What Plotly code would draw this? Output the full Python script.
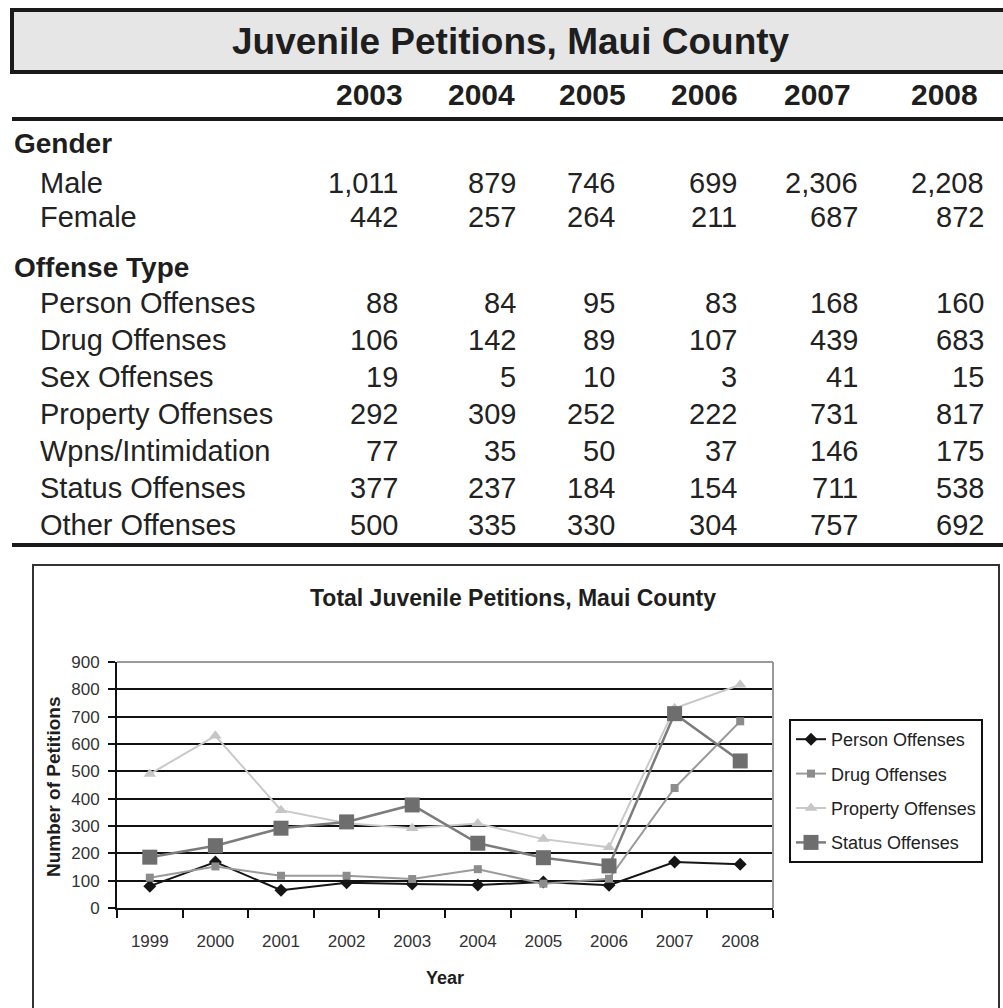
import plotly.graph_objects as go

W, H = 1003, 1008
FONT = "Liberation Sans, Arial, sans-serif"

# ---- table data ----
table_title = "Juvenile Petitions, Maui County"
table_years = ["2003", "2004", "2005", "2006", "2007", "2008"]

gender_header = "Gender"
gender_labels = ["Male", "Female"]
male_counts = [1011, 879, 746, 699, 2306, 2208]
female_counts = [442, 257, 264, 211, 687, 872]

offense_header = "Offense Type"
offense_labels = ["Person Offenses", "Drug Offenses", "Sex Offenses", "Property Offenses",
                  "Wpns/Intimidation", "Status Offenses", "Other Offenses"]
person_counts = [88, 84, 95, 83, 168, 160]
drug_counts = [106, 142, 89, 107, 439, 683]
sex_counts = [19, 5, 10, 3, 41, 15]
property_counts = [292, 309, 252, 222, 731, 817]
weapons_counts = [77, 35, 50, 37, 146, 175]
status_counts = [377, 237, 184, 154, 711, 538]
other_counts = [500, 335, 330, 304, 757, 692]

# ---- chart data (1999-2008) ----
chart_title = "Total Juvenile Petitions, Maui County"
chart_years = ["1999", "2000", "2001", "2002", "2003", "2004", "2005", "2006", "2007", "2008"]
person_series = [80, 168, 65, 92, 88, 84, 95, 83, 168, 160]
drug_series = [111, 152, 118, 118, 106, 142, 89, 107, 439, 683]
property_series = [490, 630, 358, 310, 292, 309, 252, 222, 731, 817]
status_series = [186, 228, 292, 315, 377, 237, 184, 154, 711, 538]
y_ticks = [0, 100, 200, 300, 400, 500, 600, 700, 800, 900]


def px(x):
    return x / W


def py(y):
    return 1 - y / H


fig = go.Figure()

series = [
    ("Person Offenses", person_series, "#151515", 2, "diamond", 10, "#151515"),
    ("Drug Offenses", drug_series, "#9a9a9a", 2, "square", 8, "#8c8c8c"),
    ("Property Offenses", property_series, "#c9c9c9", 2, "triangle-up", 11, "#c6c6c6"),
    ("Status Offenses", status_series, "#7c7c7c", 2.5, "square", 15, "#6e6e6e"),
]
for name, vals, lc, lw, sym, ms, mc in series:
    fig.add_trace(go.Scatter(
        x=chart_years, y=vals, name=name, legendgroup=name,
        mode="lines+markers",
        line=dict(color=lc, width=lw),
        marker=dict(symbol=sym, size=ms, color=mc),
    ))

annotations = []


def text(x, y, s, size, bold=False, anchor="left", color="#222222", angle=0):
    annotations.append(dict(
        x=px(x), y=py(y), xref="paper", yref="paper",
        text=f"<b>{s}</b>" if bold else s, showarrow=False,
        xanchor=anchor, yanchor="middle", textangle=angle,
        font=dict(family=FONT, size=size, color=color),
    ))


# table title and header row
text(511, 42, table_title, 37, bold=True, anchor="center", color="#1e1e1e")
year_right = [405, 517, 628, 740, 853, 980]
for xr, yr in zip(year_right, table_years):
    text(xr, 94, yr, 30, bold=True, anchor="right", color="#1e1e1e")

num_right = [400, 518, 617, 739, 860, 986]


def row(y, label, values):
    text(38, y, label, 29)
    for xr, v in zip(num_right, values):
        text(xr, y, f"{v:,}", 29, anchor="right")


text(12, 144, gender_header, 28, bold=True, color="#1e1e1e")
for i, (lab, vals) in enumerate(zip(gender_labels, [male_counts, female_counts])):
    row(183 + 34 * i, lab, vals)

text(12, 268, offense_header, 28, bold=True, color="#1e1e1e")
offense_values = [person_counts, drug_counts, sex_counts, property_counts,
                  weapons_counts, status_counts, other_counts]
for i, (lab, vals) in enumerate(zip(offense_labels, offense_values)):
    row(303 + 37 * i, lab, vals)

# chart titles
text(513, 598, chart_title, 23, bold=True, anchor="center", color="#1e1e1e")
text(53, 787, "Number of Petitions", 19, bold=True, anchor="center", color="#1e1e1e", angle=-90)
text(445, 978, "Year", 18, bold=True, anchor="center", color="#1e1e1e")

shapes = [
    # table header band
    dict(type="rect", xref="paper", yref="paper", x0=px(12), x1=px(1012), y0=py(72), y1=py(10),
         fillcolor="#e6e6e6", line=dict(color="#1a1a1a", width=4), layer="below"),
    dict(type="line", xref="paper", yref="paper", x0=px(12), x1=px(1010), y0=py(119), y1=py(119),
         line=dict(color="#1a1a1a", width=4)),
    dict(type="line", xref="paper", yref="paper", x0=px(12), x1=px(1010), y0=py(545), y1=py(545),
         line=dict(color="#1a1a1a", width=4)),
    # chart frame
    dict(type="rect", xref="paper", yref="paper", x0=px(33), x1=px(999), y0=py(1015), y1=py(565),
         line=dict(color="#333333", width=2), fillcolor="rgba(0,0,0,0)"),
    # plot area top and right edges
    dict(type="line", xref="x domain", yref="y domain", x0=0, x1=1, y0=1, y1=1,
         line=dict(color="#9a9a9a", width=2)),
    dict(type="line", xref="x domain", yref="y domain", x0=1, x1=1, y0=0, y1=1,
         line=dict(color="#9a9a9a", width=2)),
]

fig.update_layout(
    width=W, height=H,
    margin=dict(l=0, r=0, t=0, b=0, autoexpand=False),
    paper_bgcolor="white", plot_bgcolor="white",
    font=dict(family=FONT),
    annotations=annotations,
    shapes=shapes,
    showlegend=True,
    legend=dict(
        x=px(789), y=py(719), xanchor="left", yanchor="top",
        bordercolor="#111111", borderwidth=2, bgcolor="white",
        font=dict(family=FONT, size=18, color="#222222"),
        tracegroupgap=8, traceorder="grouped",
    ),
    xaxis=dict(
        domain=[px(117), px(773)], type="category", range=[-0.5, 9.5],
        tickson="boundaries", ticks="outside", ticklen=8, tickwidth=2, tickcolor="#111111",
        showline=True, linecolor="#111111", linewidth=2, showgrid=False,
        tickfont=dict(family=FONT, size=17, color="#333333"), ticklabelstandoff=17,
        fixedrange=True,
    ),
    yaxis=dict(
        domain=[py(908), py(662)], range=[0, 900],
        tickvals=y_ticks, ticks="outside", ticklen=7, tickwidth=2, tickcolor="#111111",
        showline=True, linecolor="#111111", linewidth=2,
        showgrid=True, gridcolor="#111111", gridwidth=2, zeroline=False,
        tickfont=dict(family=FONT, size=17, color="#333333"), ticklabelstandoff=5,
        fixedrange=True,
    ),
)

fig.write_html("out.html")
